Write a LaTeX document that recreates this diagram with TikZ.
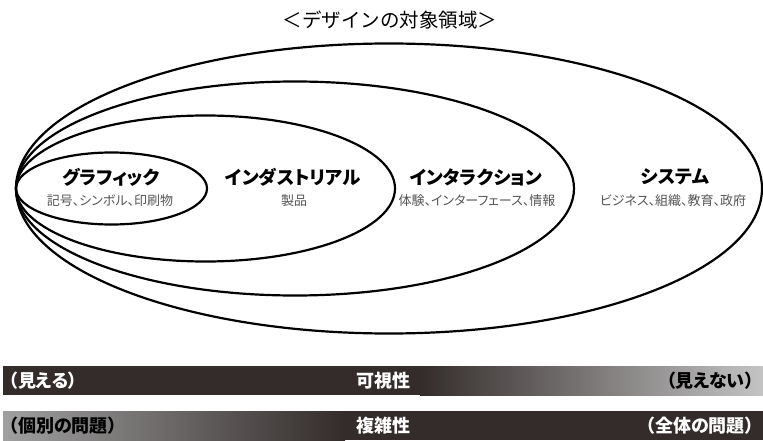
\documentclass[tikz,border=0pt]{standalone}
\usepackage{fontspec}
\newfontfamily\jp{Noto Sans CJK JP}[RawFeature=+palt]
\newfontfamily\jpfull{Noto Sans CJK JP}
\definecolor{bardark}{HTML}{332C2B}
\definecolor{barlight}{HTML}{C4C4C4}
\definecolor{barmid}{HTML}{A0A0A0}
\definecolor{subgray}{HTML}{555555}
\tikzset{
  ring/.style={draw=black, line width=2.2pt},
  maintitle/.style={font=\jp\bfseries\fontsize{18.5}{20}\selectfont, inner sep=0pt, anchor=center},
  subtitle/.style={font=\jp\fontsize{13}{15}\selectfont, text=subgray, inner sep=0pt, anchor=center},
  bartext/.style={font=\jp\bfseries\fontsize{18}{20}\selectfont, inner sep=0pt},
}
\begin{document}
\begin{tikzpicture}[x=1pt, y=-1pt]
\useasboundingbox (0,0) rectangle (763,441);
% title
\node[font=\jpfull\fontsize{19.5}{22}\selectfont, inner sep=0pt] (title) at (390,20) {＜デザインの対象領域＞};
% ellipses
\draw[ring] (389,188.5) ellipse [x radius=373, y radius=145];
\draw[ring] (295,188.5) ellipse [x radius=279, y radius=107];
\draw[ring] (205.5,188.5) ellipse [x radius=189.5, y radius=73];
\draw[ring] (111.5,188.5) ellipse [x radius=95.5, y radius=36];
% labels
\node[maintitle] (g) at (111,177) {グラフィック};
\node[subtitle] (gs) at (110,201) {記号、シンボル、印刷物};
\node[maintitle] (i) at (293,177) {インダストリアル};
\node[subtitle] (is) at (294,201) {製品};
\node[maintitle] (x) at (476,177) {インタラクション};
\node[subtitle] (xs) at (477,201) {体験、インターフェース、情報};
\node[maintitle] (s) at (675,177) {システム};
\node[subtitle] (ss) at (673,201) {ビジネス、組織、教育、政府};
% bar 1
\fill[bardark] (3,366) rectangle (763,395);
\shade[left color=bardark, right color=barlight] (420,366) rectangle (763,395);
% bar 2
\fill[bardark] (3,411) rectangle (763,440);
\shade[left color=barmid, right color=bardark] (3,411) rectangle (345,440);
% bar texts
\node[bartext, text=white, anchor=west] (v1) at (9,380.5) {（見える）};
\node[bartext, text=white] (v2) at (383,380.5) {可視性};
\node[bartext, text=black, anchor=east] (v3) at (754,380.5) {（見えない）};
\node[bartext, text=black, anchor=west] (c1) at (9,425.5) {（個別の問題）};
\node[bartext, text=white] (c2) at (383,425.5) {複雑性};
\node[bartext, text=white, anchor=east] (c3) at (754,425.5) {（全体の問題）};
\end{tikzpicture}
\end{document}
